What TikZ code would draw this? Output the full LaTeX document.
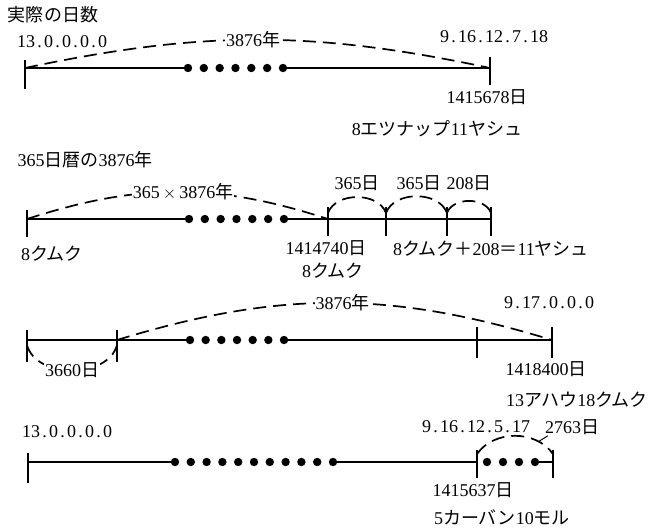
\documentclass[tikz,border=0pt]{standalone}
\usepackage{fontspec}
\setmainfont{Liberation Serif}
\newfontfamily\jp{Noto Sans CJK JP}
\newcommand\ja[1]{{\jp #1}}
\newcommand\pd{\makebox[0.5em]{.}}
\begin{document}
\begin{tikzpicture}[x=1pt,y=-1pt,
    axis/.style={line width=1.9pt},
    tick/.style={line width=1.9pt},
    arc/.style={line width=1.7pt, dash pattern=on 13pt off 7pt},
    lbl/.style={inner sep=1pt, font=\fontsize{18}{21}\selectfont}]
\useasboundingbox (0,0) rectangle (653,531);
% row 1: actual days
\coordinate (a0) at (25,68);
\coordinate (a1) at (490,68);
\draw[tick] ([yshift=8pt]a0) -- ([yshift=-21pt]a0);
\draw[tick] ([yshift=11pt]a1) -- ([yshift=-17pt]a1);
\draw[axis] (a0) -- (188,68);
\draw[axis] (283,68) -- (a1);
\foreach \i in {0,...,6} \fill (188+15.83*\i,68) circle (4.2pt);
\draw[arc] (a0) to[out=12,in=168] node[lbl,fill=white,pos=0.49]{3876\ja{年}} (a1);
\node[lbl] (title1) at (53,15) {\ja{実際の日数}};
\node[lbl] (start1) at (62,42) {13\pd0\pd0\pd0\pd0};
\node[lbl] (end1) at (494,37) {9\pd16\pd12\pd7\pd18};
\node[lbl] (days1) at (487,97) {1415678\ja{日}};
\node[lbl] (name1) at (437,129) {8\ja{エツナップ}11\ja{ヤシュ}};
% row 2: 365-day years
\coordinate (b0) at (27,219);
\coordinate (b1) at (328,219);
\coordinate (b2) at (386,219);
\coordinate (b3) at (447,219);
\coordinate (b4) at (491,219);
\draw[tick] ([yshift=9pt]b0) -- ([yshift=-18pt]b0);
\foreach \p in {b1,b2,b3,b4}
    \draw[tick] ([yshift=12pt]\p) -- ([yshift=-17pt]\p);
\draw[axis] (b0) -- (189,219);
\draw[axis] (284,219) -- (b4);
\foreach \i in {0,...,6} \fill (189+15.83*\i,219) circle (4.2pt);
\draw[arc] (b0) to[out=18,in=162] node[lbl,fill=white,pos=0.52]{365\,$\times$\,3876\ja{年}} (b1);
\draw[arc] ([yshift=6pt]b1) to[out=70,in=110] ([yshift=6pt]b2);
\draw[arc] ([yshift=6pt]b2) to[out=70,in=110] ([yshift=6pt]b3);
\draw[arc] ([yshift=6pt]b3) to[out=70,in=110] ([yshift=6pt]b4);
\node[lbl] (title2) at (85,160) {365\ja{日暦の}3876\ja{年}};
\node[lbl] (yr1) at (357,183) {365\ja{日}};
\node[lbl] (yr2) at (419,183) {365\ja{日}};
\node[lbl] (yr3) at (469,183) {208\ja{日}};
\node[lbl] (start2) at (52,254) {8\ja{クムク}};
\node[lbl] (days2) at (326,248) {1414740\ja{日}};
\node[lbl] (name2) at (333,271) {8\ja{クムク}};
\node[lbl] (sum2) at (491,249) {8\ja{クムク＋}208\ja{＝}11\ja{ヤシュ}};
% row 3
\coordinate (c0) at (27,340);
\coordinate (c1) at (117,340);
\coordinate (c2) at (477,340);
\coordinate (c3) at (552,340);
\draw[tick] ([yshift=10pt]c0) -- ([yshift=-22pt]c0);
\draw[tick] ([yshift=10pt]c1) -- ([yshift=-22pt]c1);
\draw[tick] ([yshift=13pt]c2) -- ([yshift=-18pt]c2);
\draw[tick] ([yshift=13pt]c3) -- ([yshift=-18pt]c3);
\draw[axis] (c0) -- (190,340);
\draw[axis] (284,340) -- (c3);
\foreach \i in {0,...,6} \fill (190+15.67*\i,340) circle (4.2pt);
\draw[arc] (c1) to[out=17,in=163] node[lbl,fill=white,pos=0.52]{3876\ja{年}} (c3);
\draw[arc] ([yshift=-5pt]c0) to[out=-75,in=-105] node[lbl,fill=white]{3660\ja{日}} ([yshift=-5pt]c1);
\node[lbl] (end3) at (549,303) {9\pd17\pd0\pd0\pd0};
\node[lbl] (days3) at (546,369) {1418400\ja{日}};
\node[lbl] (name3) at (577,400) {13\ja{アハウ}18\ja{クムク}};
% row 4
\coordinate (d0) at (28,462);
\coordinate (d1) at (477,462);
\coordinate (d2) at (553,462);
\draw[tick] ([yshift=9pt]d0) -- ([yshift=-21pt]d0);
\draw[tick] ([yshift=12pt]d1) -- ([yshift=-16pt]d1);
\draw[tick] ([yshift=12pt]d2) -- ([yshift=-16pt]d2);
\draw[axis] (d0) -- (175,462);
\draw[axis] (333,462) -- (d1);
\draw[axis] (535,462) -- (d2);
\foreach \i in {0,...,10} \fill (175+15.8*\i,462) circle (4.2pt);
\foreach \i in {0,...,3} \fill (487+16*\i,462) circle (4.2pt);
\draw[arc] ([yshift=8pt]d1) to[out=55,in=125] coordinate[pos=0.78] (arcpt) ([yshift=8pt]d2);
\node[lbl] (start4) at (67,432) {13\pd0\pd0\pd0\pd0};
\node[lbl] (end4) at (476,427) {9\pd16\pd12\pd5\pd17};
\node[lbl] (gap4) at (572,427) {2763\ja{日}};
\draw[line width=1pt] ([xshift=4pt]gap4.south west) -- (arcpt);
\node[lbl] (days4) at (473,490) {1415637\ja{日}};
\node[lbl] (name4) at (502,517) {5\ja{カーバン}10\ja{モル}};
\end{tikzpicture}
\end{document}
